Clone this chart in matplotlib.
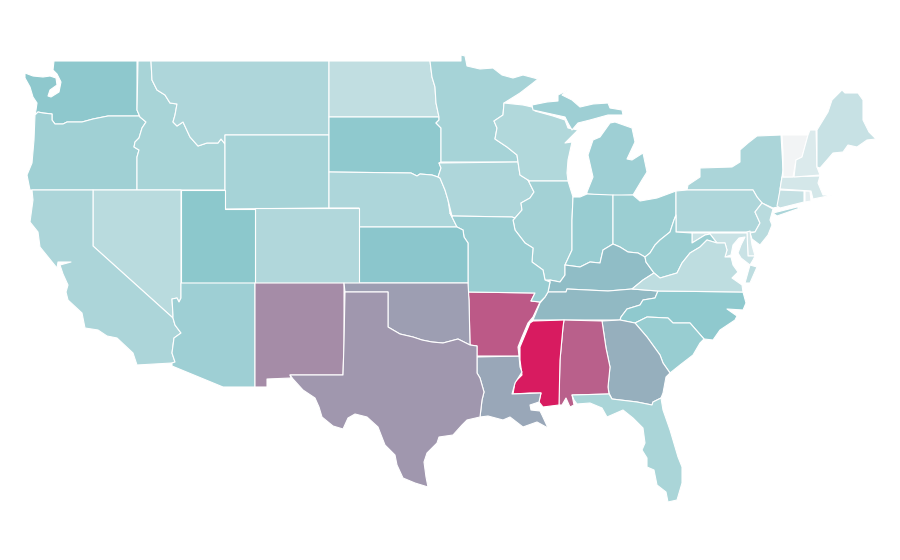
import matplotlib
matplotlib.use("Agg")
import matplotlib.pyplot as plt
from matplotlib.collections import PolyCollection
from matplotlib.colors import LinearSegmentedColormap, Normalize

# values, 0 = lightest, 100 = darkest pink
rates = {
    'WA': 48.5, 'OR': 40, 'CA': 34, 'NV': 28, 'ID': 36, 'MT': 33, 'WY': 37, 'UT': 49.5,
    'AZ': 41, 'CO': 32, 'NM': 67, 'ND': 24, 'SD': 48, 'NE': 33.5, 'KS': 50, 'OK': 62,
    'TX': 64, 'MN': 37, 'IA': 33, 'MO': 43, 'AR': 82, 'LA': 59, 'WI': 31.5, 'IL': 38.5,
    'MI': 41, 'IN': 44, 'OH': 42.5, 'KY': 53, 'TN': 54, 'MS': 100, 'AL': 80, 'GA': 57,
    'FL': 35, 'SC': 43.5, 'NC': 48, 'VA': 25, 'WV': 42.5, 'PA': 33, 'NY': 34.5, 'NJ': 28,
    'DE': 14, 'MD': 20, 'CT': 22, 'RI': 7, 'MA': 14.5, 'VT': 0, 'NH': 11.5, 'ME': 21,
}
colour_stops = ['#f2f4f5', '#8bc7cc', '#d81b60']

outlines = [
    ('WA', [(54,61),(137,61),(137,110),(140,117),(139,116),(108,116),(93,119),(82,122),(67,122),(63,124),(55,124),(52,120),(52,114),(43,113),(38,112),(35,115),(36,110),(37,103),(33,97),(30,87),(25,78),(25,73),(33,76),(43,77),(50,76),(56,78),(57,85),(50,90),(48,96),(51,97),(59,92),(61,82),(57,74),(53,70)]),
    ('OR', [(35,115),(38,112),(43,113),(52,114),(52,120),(55,124),(63,124),(67,122),(82,122),(93,119),(108,116),(139,116),(140,117),(146,122),(142,128),(139,138),(135,142),(134,147),(139,150),(137,157),(137,190),(30,190),(27,175),(32,163),(34,140)]),
    ('ID', [(138,61),(151,61),(152,80),(157,90),(165,95),(170,103),(177,104),(175,115),(173,122),(177,126),(183,122),(190,137),(198,146),(207,143),(218,143),(221,139),(225,144),(225,190),(137,190),(137,157),(139,150),(134,147),(135,142),(139,138),(142,128),(146,122),(140,117),(137,110)]),
    ('MT', [(151,61),(329,61),(329,135),(225,135),(225,144),(221,139),(218,143),(207,143),(198,146),(190,137),(183,122),(177,126),(173,122),(175,115),(177,104),(170,103),(165,95),(157,90),(152,80)]),
    ('WY', [(225,135),(329,135),(329,208),(225,209)]),
    ('ND', [(329,61),(430,61),(432,77),(435,87),(436,103),(439,117),(329,117)]),
    ('SD', [(329,117),(439,117),(439,120),(436,123),(441,128),(441,162),(439,163),(441,168),(438,177),(432,175),(420,174),(417,176),(411,173),(329,172)]),
    ('NE', [(329,172),(411,173),(417,176),(420,174),(432,175),(438,177),(440,178),(445,190),(448,200),(450,213),(457,227),(359,227),(359,208),(329,208)]),
    ('MN', [(430,61),(461,61),(461,55),(465,56),(467,66),(480,69),(493,68),(502,75),(513,78),(523,75),(538,79),(533,83),(520,93),(504,103),(503,115),(494,121),(497,128),(495,139),(507,147),(517,155),(518,162),(441,162),(441,128),(436,123),(439,120),(439,117),(436,103),(435,87),(432,77)]),
    ('IA', [(439,163),(518,162),(520,175),(528,180),(534,192),(530,198),(521,203),(522,210),(515,218),(512,217),(452,216),(448,200),(445,190),(440,178),(438,177),(441,168)]),
    ('WI', [(504,103),(523,105),(532,107),(535,111),(553,116),(565,120),(568,128),(578,130),(565,143),(572,142),(568,160),(567,173),(568,181),(529,181),(528,180),(520,175),(518,162),(517,155),(507,147),(495,139),(497,128),(494,121),(503,115)]),
    ('MI', [(532,105),(547,102),(558,101),(558,95),(568,90),(562,95),(572,100),(580,107),(593,104),(608,103),(610,108),(622,110),(623,115),(608,115),(590,120),(578,123),(572,130),(568,123),(565,117),(533,110)]),
    ('MI', [(610,123),(615,122),(632,128),(635,142),(627,159),(632,160),(643,153),(647,172),(642,180),(633,195),(613,196),(587,194),(587,192),(593,177),(588,155),(593,140),(600,137),(605,130)]),
    ('IL', [(529,181),(568,181),(573,197),(572,220),(572,250),(565,265),(565,275),(560,282),(550,280),(545,280),(543,270),(532,262),(533,248),(525,243),(515,230),(513,220),(515,218),(522,210),(521,203),(530,198),(534,192),(528,180)]),
    ('IN', [(573,197),(580,197),(587,194),(613,195),(613,223),(613,244),(603,250),(600,263),(590,262),(580,267),(565,265),(572,250),(572,220)]),
    ('OH', [(613,195),(633,195),(640,201),(657,198),(676,191),(676,215),(674,220),(670,232),(660,240),(655,245),(650,253),(645,257),(638,253),(628,252),(620,247),(613,244),(613,223)]),
    ('KY', [(613,244),(620,247),(628,252),(638,253),(645,257),(646,262),(654,273),(643,280),(632,289),(608,291),(567,289),(566,292),(548,292),(550,282),(550,280),(560,282),(565,275),(565,265),(580,267),(590,262),(600,263),(603,250)]),
    ('TN', [(548,292),(566,292),(567,289),(608,291),(632,289),(658,291),(655,298),(643,300),(640,305),(627,309),(621,317),(620,320),(533,320),(540,303),(545,297)]),
    ('NC', [(658,291),(743,292),(746,303),(743,310),(727,309),(737,316),(735,320),(720,330),(713,340),(704,339),(690,323),(673,323),(668,318),(647,317),(635,323),(620,320),(621,317),(627,309),(640,305),(643,300),(655,298)]),
    ('SC', [(635,323),(647,317),(668,318),(673,323),(690,323),(704,339),(700,343),(693,355),(680,365),(670,373),(663,363),(660,355),(647,337)]),
    ('GA', [(602,321),(620,320),(635,323),(647,337),(660,355),(663,363),(670,373),(666,377),(663,393),(661,398),(653,402),(652,405),(637,402),(612,399),(609,393),(608,387),(610,367),(606,348)]),
    ('AL', [(564,320),(602,321),(606,348),(610,367),(608,387),(609,394),(572,395),(574,405),(570,407),(566,398),(562,405),(559,405),(559,397),(560,360),(563,327)]),
    ('MS', [(533,321),(564,320),(563,327),(560,360),(559,405),(543,407),(539,402),(541,393),(530,393),(513,394),(515,382),(522,375),(520,360),(520,347),(530,323)]),
    ('LA', [(477,357),(519,356),(520,367),(522,372),(515,383),(512,394),(541,393),(539,402),(530,405),(531,410),(540,411),(542,415),(548,428),(537,422),(523,427),(510,417),(503,420),(488,416),(480,417),(482,400),(484,392),(480,378),(477,373)]),
    ('AR', [(468,292),(535,293),(531,301),(540,302),(533,317),(528,323),(522,337),(518,347),(519,356),(477,356),(477,346),(470,345),(469,300)]),
    ('MO', [(452,216),(512,217),(515,218),(513,220),(515,230),(525,243),(533,248),(532,262),(543,270),(545,280),(550,282),(548,292),(545,297),(540,302),(531,301),(535,293),(468,292),(468,243),(464,237),(463,230),(457,227),(450,213)]),
    ('KS', [(359,227),(457,227),(463,230),(464,237),(468,243),(468,283),(359,283)]),
    ('CO', [(255,208),(359,208),(359,283),(255,283)]),
    ('UT', [(181,190),(225,190),(225,209),(255,209),(255,283),(181,283)]),
    ('NV', [(93,190),(181,190),(181,298),(179,302),(177,298),(172,299),(173,315),(173,318),(93,246)]),
    ('CA', [(32,190),(93,190),(93,246),(173,318),(175,325),(181,333),(174,338),(172,353),(175,362),(172,363),(137,365),(133,353),(117,338),(107,336),(98,330),(85,328),(82,313),(68,300),(66,292),(68,285),(63,274),(60,265),(71,262),(58,262),(57,268),(40,247),(38,232),(30,222),(33,200)]),
    ('AZ', [(181,283),(255,283),(255,387),(223,387),(172,366),(172,363),(175,362),(172,353),(174,338),(181,333),(175,325),(173,318),(173,315),(172,299),(177,298),(179,302),(181,298)]),
    ('NM', [(255,283),(344,283),(344,343),(343,375),(290,375),(291,378),(267,379),(267,387),(255,387)]),
    ('OK', [(344,283),(468,283),(469,300),(470,345),(458,339),(443,343),(432,342),(422,340),(413,337),(400,334),(388,327),(388,292),(345,292)]),
    ('TX', [(345,292),(388,292),(388,327),(400,334),(413,337),(422,340),(432,342),(443,343),(458,339),(470,345),(477,346),(477,373),(480,378),(484,392),(482,400),(480,417),(467,420),(462,425),(453,435),(439,437),(437,443),(427,453),(424,462),(426,477),(428,487),(415,483),(403,478),(397,465),(395,455),(385,445),(378,427),(367,417),(355,414),(348,418),(343,429),(333,426),(322,417),(319,407),(315,398),(303,390),(293,379),(290,375),(343,375),(344,343)]),
    ('FL', [(572,395),(609,394),(612,399),(637,402),(652,405),(653,402),(661,398),(663,410),(670,430),(678,457),(682,467),(682,483),(677,500),(668,502),(666,492),(657,485),(654,470),(647,467),(647,458),(642,450),(645,443),(643,428),(633,418),(623,410),(607,417),(602,408),(590,403),(577,404),(574,400)]),
    ('NY', [(781,135),(757,136),(748,143),(740,150),(740,162),(732,167),(700,168),(700,177),(688,185),(687,190),(753,190),(757,197),(762,203),(773,208),(778,207),(780,190),(783,170),(782,152)]),
    ('NY', [(773,213),(797,207),(800,208),(777,216)]),
    ('PA', [(676,191),(687,190),(753,190),(757,197),(762,203),(755,212),(760,223),(755,232),(676,232)]),
    ('NJ', [(762,203),(773,209),(770,220),(772,225),(768,235),(760,245),(752,239),(750,233),(755,232),(760,223),(755,212)]),
    ('DE', [(747,232),(750,231),(752,245),(755,256),(748,256)]),
    ('MD', [(692,233),(747,233),(748,256),(755,256),(753,260),(750,265),(741,258),(738,253),(741,245),(745,237),(739,238),(733,245),(731,255),(725,257),(727,250),(725,243),(717,243),(710,234),(705,235),(692,243)]),
    ('WV', [(676,215),(674,220),(670,232),(660,240),(655,245),(650,253),(645,257),(646,262),(654,273),(660,278),(677,273),(682,263),(690,253),(700,247),(707,240),(717,243),(710,234),(705,235),(692,243),(692,233),(676,232)]),
    ('VA', [(707,240),(717,243),(725,243),(727,250),(725,257),(731,257),(733,265),(738,272),(732,278),(742,285),(743,292),(658,291),(632,289),(643,280),(654,273),(660,278),(677,273),(682,263),(690,253),(700,247)]),
    ('VA', [(750,265),(757,267),(750,283),(745,283)]),
    ('CT', [(780,190),(804,191),(804,202),(780,208),(777,206)]),
    ('RI', [(805,191),(810,191),(811,201),(805,202)]),
    ('MA', [(782,177),(820,176),(818,183),(823,195),(832,195),(823,197),(813,199),(811,191),(780,189)]),
    ('VT', [(782,135),(808,135),(802,157),(796,160),(793,177),(783,177),(783,152)]),
    ('NH', [(810,130),(816,130),(817,167),(820,175),(794,177),(796,160),(802,157),(808,135)]),
    ('ME', [(817,130),(828,112),(832,100),(842,90),(845,93),(858,93),(863,100),(863,120),(869,132),(876,139),(867,140),(857,147),(848,145),(843,152),(833,153),(827,160),(820,168),(817,167)]),
]

state_ids = [o[0] for o in outlines]
shapes = [o[1] for o in outlines]
values = [rates[s] for s in state_ids]

fig = plt.figure(figsize=(9, 5.6), dpi=100, facecolor='white')
ax = fig.add_axes([0, 0, 1, 1])

cmap = LinearSegmentedColormap.from_list('rate', colour_stops)
states = PolyCollection(shapes, array=values, cmap=cmap, norm=Normalize(0, 100),
                        edgecolors='white', linewidths=0.8, antialiaseds=True)
ax.add_collection(states)

ax.set_xlim(0, 900)
ax.set_ylim(560, 0)
ax.axis('off')

plt.savefig('out.png', dpi=100, facecolor='white')
